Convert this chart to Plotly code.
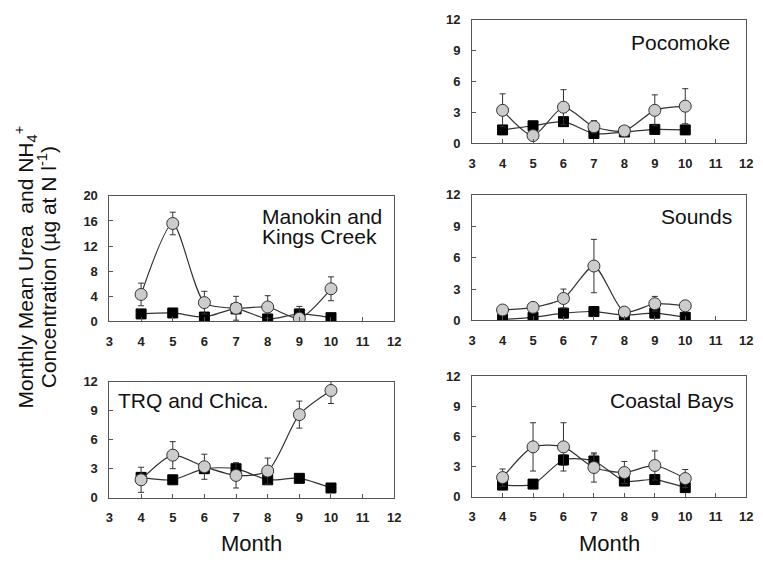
import plotly.graph_objects as go

W, H = 763, 566

months = [4, 5, 6, 7, 8, 9, 10]

# Urea (gray circles) and NH4+ (black squares): means and error (SD)
poc_urea = [3.2, 0.75, 3.5, 1.6, 1.2, 3.2, 3.6]
poc_urea_err = [1.6, 0.3, 1.7, 0.6, 0.3, 1.5, 1.7]
poc_nh4 = [1.3, 1.7, 2.1, 0.95, 1.1, 1.35, 1.3]
poc_nh4_err = [0.3, 0.3, 0.4, 0.3, 0.2, 0.3, 0.3]

snd_urea = [1.0, 1.25, 2.1, 5.2, 0.8, 1.6, 1.4]
snd_urea_err = [0.3, 0.3, 0.9, 2.55, 0.3, 0.7, 0.3]
snd_nh4 = [0.1, 0.3, 0.7, 0.85, 0.5, 0.7, 0.3]
snd_nh4_err = [0.1, 0.1, 0.2, 0.2, 0.1, 0.2, 0.1]

cb_urea = [1.9, 4.95, 4.95, 2.9, 2.4, 3.1, 1.8]
cb_urea_err = [0.85, 2.4, 2.4, 1.45, 1.1, 1.45, 0.9]
cb_nh4 = [1.15, 1.25, 3.65, 3.55, 1.55, 1.7, 0.9]
cb_nh4_err = [0.3, 0.3, 0.5, 0.7, 0.3, 0.3, 0.3]

mk_urea = [4.3, 15.6, 3.0, 2.1, 2.3, 0.5, 5.2]
mk_urea_err = [1.8, 1.8, 1.8, 1.9, 1.8, 1.9, 1.9]
mk_nh4 = [1.2, 1.35, 0.7, 2.0, 0.4, 1.2, 0.6]
mk_nh4_err = [0.4, 0.5, 0.3, 0.5, 0.3, 0.4, 0.3]

trq_urea = [1.85, 4.4, 3.2, 2.3, 2.75, 8.6, 11.1]
trq_urea_err = [1.3, 1.4, 1.3, 1.3, 1.35, 1.4, 1.35]
trq_nh4 = [2.1, 1.85, 3.0, 3.0, 1.85, 2.0, 1.0]
trq_nh4_err = [0.4, 0.3, 0.4, 0.6, 0.3, 0.3, 0.3]

x_ticks = [3, 4, 5, 6, 7, 8, 9, 10, 11, 12]
y_ticks_12 = [0, 3, 6, 9, 12]
y_ticks_20 = [0, 4, 8, 12, 16, 20]

def px_x(a, b):
    return [a / W, b / W]

def px_y(top, bottom):
    return [1 - bottom / H, 1 - top / H]

LEFT = px_x(107, 396)
RIGHT = px_x(475, 753)

panels = [
    # name, urea, urea_err, nh4, nh4_err, xdomain, ydomain, yticks, ymax
    ("Pocomoke", poc_urea, poc_urea_err, poc_nh4, poc_nh4_err, RIGHT, px_y(13, 140), y_ticks_12, 12),
    ("Sounds", snd_urea, snd_urea_err, snd_nh4, snd_nh4_err, RIGHT, px_y(193, 322), y_ticks_12, 12),
    ("Coastal Bays", cb_urea, cb_urea_err, cb_nh4, cb_nh4_err, RIGHT, px_y(379, 503), y_ticks_12, 12),
    ("Manokin", mk_urea, mk_urea_err, mk_nh4, mk_nh4_err, LEFT, px_y(194, 323), y_ticks_20, 20),
    ("TRQ", trq_urea, trq_urea_err, trq_nh4, trq_nh4_err, LEFT, px_y(385, 504), y_ticks_12, 12),
]

fig = go.Figure()
line_col = "#333333"
axis_col = "#555555"
tick_font = dict(family="Liberation Sans, Arial", size=13, color="#222222", weight="bold")

layout = dict(
    width=W, height=H,
    margin=dict(l=0, r=0, t=0, b=0),
    paper_bgcolor="white", plot_bgcolor="white",
    showlegend=False,
)

for i, (name, u, ue, n, ne, xd, yd, yt, ymax) in enumerate(panels):
    k = i + 1
    xa = "x" if k == 1 else f"x{k}"
    ya = "y" if k == 1 else f"y{k}"
    fig.add_trace(go.Scatter(
        x=months, y=n, xaxis=xa, yaxis=ya, mode="lines+markers",
        line=dict(color=line_col, width=1.2, shape="spline", smoothing=0.7),
        marker=dict(symbol="square", size=10, color="black", line=dict(color="black", width=1)),
        error_y=dict(type="data", array=ne, color=line_col, thickness=1, width=3),
    ))
    fig.add_trace(go.Scatter(
        x=months, y=u, xaxis=xa, yaxis=ya, mode="lines+markers",
        line=dict(color=line_col, width=1.2, shape="spline", smoothing=0.7),
        marker=dict(symbol="circle", size=12, color="#cccccc", line=dict(color="#333333", width=1)),
        error_y=dict(type="data", array=ue, color=line_col, thickness=1, width=3),
    ))
    xkey = "xaxis" if k == 1 else f"xaxis{k}"
    ykey = "yaxis" if k == 1 else f"yaxis{k}"
    layout[xkey] = dict(
        domain=xd, anchor=ya, range=[3, 12], tickvals=x_ticks,
        ticks="inside", ticklen=4, tickcolor=axis_col, tickwidth=1,
        showline=True, linecolor=axis_col, linewidth=1, mirror=True,
        showgrid=False, zeroline=False, tickfont=tick_font, ticklabelstandoff=8,
    )
    layout[ykey] = dict(
        domain=yd, anchor=xa, range=[0, ymax], tickvals=yt,
        ticks="inside", ticklen=4, tickcolor=axis_col, tickwidth=1,
        showline=True, linecolor=axis_col, linewidth=1, mirror=True,
        showgrid=False, zeroline=False, tickfont=tick_font, ticklabelstandoff=8,
    )

fig.update_layout(**layout)

label_font = dict(family="Liberation Sans, Arial", size=21, color="#111111")
ann = []
def add_text(text, xpx, ypx, xanchor="center", size=21, angle=0):
    ann.append(dict(
        text=text, x=xpx / W, y=1 - ypx / H, xref="paper", yref="paper",
        xanchor=xanchor, yanchor="middle", showarrow=False, textangle=angle,
        font=dict(family="Liberation Sans, Arial", size=size, color="#111111"),
    ))

add_text("Pocomoke", 739, 36, xanchor="right")
add_text("Sounds", 741, 215, xanchor="right")
add_text("Coastal Bays", 743, 404, xanchor="right")
add_text("Manokin and", 260, 215, xanchor="left")
add_text("Kings Creek", 260, 236, xanchor="left")
add_text("TRQ and Chica.", 114, 404, xanchor="left")
add_text("Month", 251, 551, size=22)
add_text("Month", 614, 551, size=22)
add_text("Monthly Mean Urea  and NH<sub>4</sub><sup>+</sup>", 22, 267, size=21, angle=-90)
add_text("Concentration (µg at N l<sup>-1</sup>)", 44, 267, size=21, angle=-90)

fig.update_layout(annotations=ann)
fig.write_html("out.html")
